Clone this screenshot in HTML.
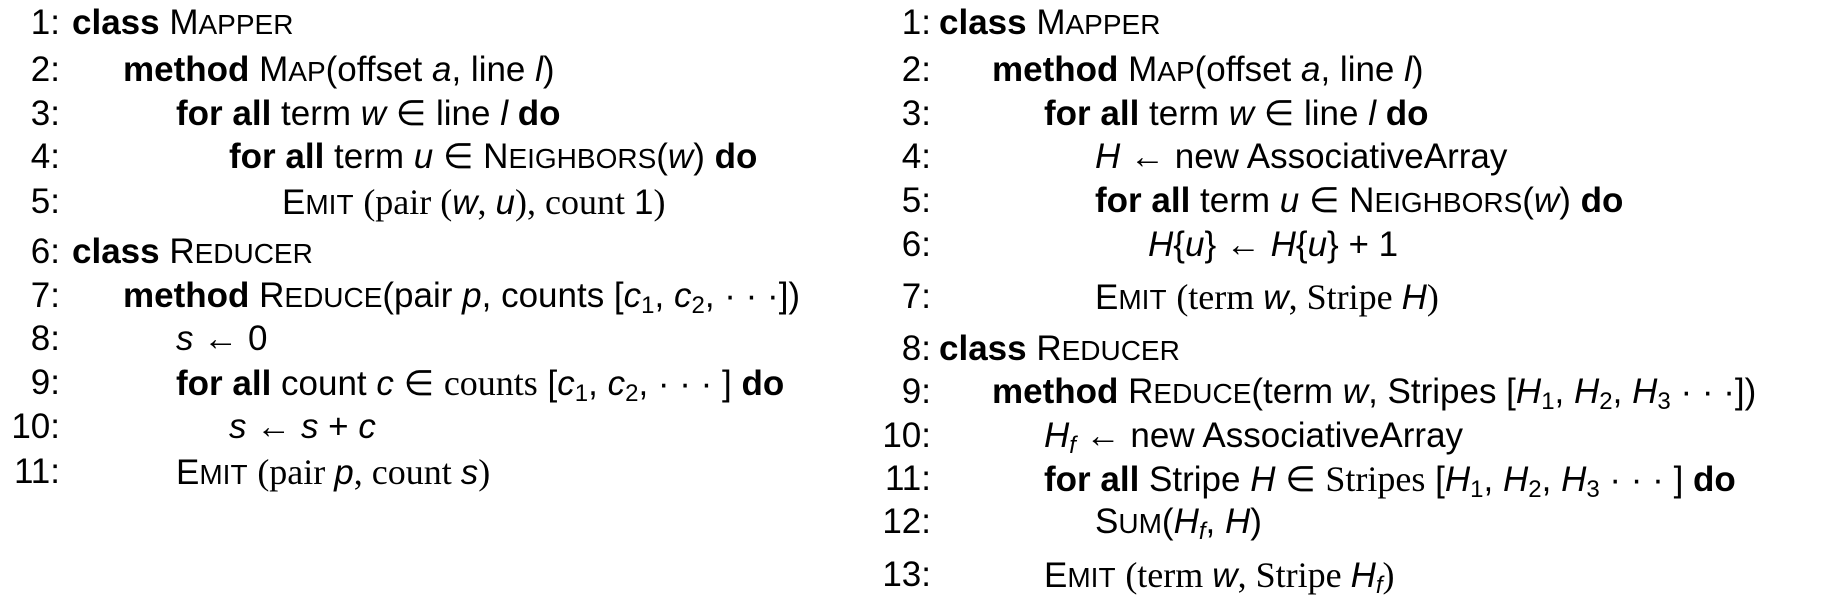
<!DOCTYPE html>
<html><head><meta charset="utf-8"><style>
body{margin:0;width:1841px;height:611px;background:#fff;position:relative;overflow:hidden;font-family:"Liberation Sans",sans-serif;font-size:35px;color:#000}
.l{position:absolute;white-space:nowrap;line-height:40px;height:40px}
.n{position:absolute;white-space:nowrap;line-height:40px;text-align:right;width:60px}
b{font-weight:bold}
s{text-decoration:none;font-size:0.8em}
i{font-style:italic}
.r{font-family:"Liberation Serif",serif;font-size:36px}
sub{font-size:24px;vertical-align:-6px;line-height:0}
</style></head><body>
<!-- left -->
<div class="n" style="left:0;top:3px">1:</div><div class="l" style="left:72px;top:3px"><b>class</b> M<s>APPER</s></div>
<div class="n" style="left:0;top:50px">2:</div><div class="l" style="left:123px;top:50px"><b>method</b> M<s>AP</s>(offset <i>a</i>, line <i>l</i>)</div>
<div class="n" style="left:0;top:94px">3:</div><div class="l" style="left:176px;top:94px"><b>for all</b> term <i>w</i> ∈ line <i>l</i> <b>do</b></div>
<div class="n" style="left:0;top:137px">4:</div><div class="l" style="left:229px;top:137px"><b>for all</b> term <i>u</i> ∈ N<s>EIGHBORS</s>(<i>w</i>) <b>do</b></div>
<div class="n" style="left:0;top:182px">5:</div><div class="l" style="left:282px;top:182px">E<s>MIT</s> <span class="r">(pair (</span><i>w</i><span class="r">, </span><i>u</i><span class="r">), count </span>1<span class="r">)</span></div>
<div class="n" style="left:0;top:232px">6:</div><div class="l" style="left:72px;top:232px"><b>class</b> R<s>EDUCER</s></div>
<div class="n" style="left:0;top:276px">7:</div><div class="l" style="left:123px;top:276px"><b>method</b> R<s>EDUCE</s>(pair <i>p</i>, counts [<i>c</i><sub>1</sub>, <i>c</i><sub>2</sub>, · · ·])</div>
<div class="n" style="left:0;top:319px">8:</div><div class="l" style="left:176px;top:319px"><i>s</i> ← 0</div>
<div class="n" style="left:0;top:363px">9:</div><div class="l" style="left:176px;top:363px"><b>for all</b> count <i>c</i> ∈ <span class="r">counts</span> [<i>c</i><sub>1</sub>, <i>c</i><sub>2</sub>, · · · ] <b>do</b></div>
<div class="n" style="left:0;top:407px">10:</div><div class="l" style="left:229px;top:407px"><i>s</i> ← <i>s</i> + <i>c</i></div>
<div class="n" style="left:0;top:452px">11:</div><div class="l" style="left:176px;top:452px">E<s>MIT</s> <span class="r">(pair </span><i>p</i><span class="r">, count </span><i>s</i><span class="r">)</span></div>
<!-- right -->
<div class="n" style="left:871px;top:3px">1:</div><div class="l" style="left:939px;top:3px"><b>class</b> M<s>APPER</s></div>
<div class="n" style="left:871px;top:50px">2:</div><div class="l" style="left:992px;top:50px"><b>method</b> M<s>AP</s>(offset <i>a</i>, line <i>l</i>)</div>
<div class="n" style="left:871px;top:94px">3:</div><div class="l" style="left:1044px;top:94px"><b>for all</b> term <i>w</i> ∈ line <i>l</i> <b>do</b></div>
<div class="n" style="left:871px;top:137px">4:</div><div class="l" style="left:1095px;top:137px"><i>H</i> ← new AssociativeArray</div>
<div class="n" style="left:871px;top:181px">5:</div><div class="l" style="left:1095px;top:181px"><b>for all</b> term <i>u</i> ∈ N<s>EIGHBORS</s>(<i>w</i>) <b>do</b></div>
<div class="n" style="left:871px;top:225px">6:</div><div class="l" style="left:1148px;top:225px"><i>H</i>{<i>u</i>} ← <i>H</i>{<i>u</i>} + 1</div>
<div class="n" style="left:871px;top:277px">7:</div><div class="l" style="left:1095px;top:277px">E<s>MIT</s> <span class="r">(term </span><i>w</i><span class="r">, Stripe </span><i>H</i><span class="r">)</span></div>
<div class="n" style="left:871px;top:329px">8:</div><div class="l" style="left:939px;top:329px"><b>class</b> R<s>EDUCER</s></div>
<div class="n" style="left:871px;top:372px">9:</div><div class="l" style="left:992px;top:372px"><b>method</b> R<s>EDUCE</s>(term <i>w</i>, Stripes [<i>H</i><sub>1</sub>, <i>H</i><sub>2</sub>, <i>H</i><sub>3</sub> · · ·])</div>
<div class="n" style="left:871px;top:416px">10:</div><div class="l" style="left:1044px;top:416px"><i>H<sub>f</sub></i> ← new AssociativeArray</div>
<div class="n" style="left:871px;top:459px">11:</div><div class="l" style="left:1044px;top:459px"><b>for all</b> Stripe <i>H</i> ∈ <span class="r">Stripes</span> [<i>H</i><sub>1</sub>, <i>H</i><sub>2</sub>, <i>H</i><sub>3</sub> · · · ] <b>do</b></div>
<div class="n" style="left:871px;top:502px">12:</div><div class="l" style="left:1095px;top:502px">S<s>UM</s>(<i>H<sub>f</sub></i>, <i>H</i>)</div>
<div class="n" style="left:871px;top:555px">13:</div><div class="l" style="left:1044px;top:555px">E<s>MIT</s> <span class="r">(term </span><i>w</i><span class="r">, Stripe </span><i>H<sub>f</sub></i><span class="r">)</span></div>
</body></html>
